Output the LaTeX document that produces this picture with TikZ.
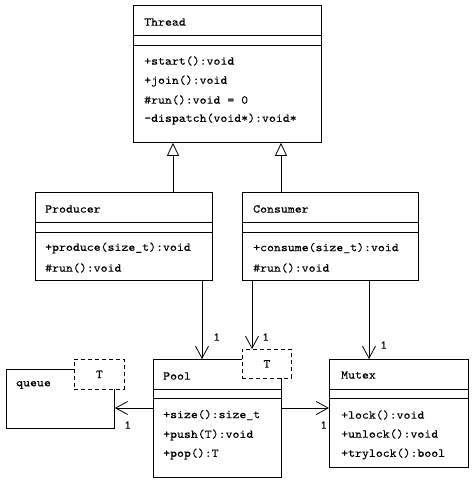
\documentclass[tikz,border=0pt]{standalone}
\usepackage{fontspec}
\setmonofont{lmmono10-regular}[Extension=.otf, FakeStretch=1.1, FakeBold=0.15]
\usetikzlibrary{arrows.meta}

\begin{document}
\begin{tikzpicture}[x=1pt, y=-1pt,
    classe/.style={draw, line width=0.8pt, fill=white, anchor=north west, inner sep=0pt},
    modele/.style={draw, dash pattern=on 4pt off 3pt, line width=0.8pt, fill=white, anchor=north west,
                   inner sep=0pt, font=\ttfamily\fontsize{12}{14}\selectfont},
    texte/.style={anchor=west, inner sep=0pt, font=\ttfamily\fontsize{12}{14}\selectfont},
    herite/.style={-{Triangle[open, length=13pt, width=12pt]}, line width=0.8pt},
    assoc/.style={-{Straight Barb[length=12pt, width=13pt]}, line width=0.8pt}]

    % Cadre de la figure
    \useasboundingbox (0,0) rectangle (474,483);

    % Les boites des classes
    \node[classe, minimum width=188pt, minimum height=137pt] (thread)   at (133,5)   {};
    \node[classe, minimum width=177pt, minimum height=88pt]  (producer) at (35,192)  {};
    \node[classe, minimum width=176pt, minimum height=88pt]  (consumer) at (242,192) {};
    \node[classe, minimum width=128pt, minimum height=118pt] (pool)     at (153,359) {};
    \node[classe, minimum width=139pt, minimum height=108pt] (mutex)    at (329,359) {};
    \node[classe, minimum width=108pt, minimum height=59pt]  (queue)    at (6,369)   {};

    % Separations nom / attributs / operations
    \draw[line width=0.8pt] (thread.west |- 0,35)    -- (thread.east |- 0,35);
    \draw[line width=0.8pt] (thread.west |- 0,45)    -- (thread.east |- 0,45);
    \draw[line width=0.8pt] (producer.west |- 0,222) -- (producer.east |- 0,222);
    \draw[line width=0.8pt] (producer.west |- 0,232) -- (producer.east |- 0,232);
    \draw[line width=0.8pt] (consumer.west |- 0,222) -- (consumer.east |- 0,222);
    \draw[line width=0.8pt] (consumer.west |- 0,232) -- (consumer.east |- 0,232);
    \draw[line width=0.8pt] (pool.west |- 0,389)     -- (pool.east |- 0,389);
    \draw[line width=0.8pt] (pool.west |- 0,398)     -- (pool.east |- 0,398);
    \draw[line width=0.8pt] (mutex.west |- 0,389)    -- (mutex.east |- 0,389);
    \draw[line width=0.8pt] (mutex.west |- 0,398)    -- (mutex.east |- 0,398);

    % Parametres template (en pointilles, par-dessus les boites)
    \node[modele, minimum width=49pt, minimum height=29pt] (pooltpl)  at (242,349) {T};
    \node[modele, minimum width=50pt, minimum height=30pt] (queuetpl) at (74,359)  {T};

    % Classe Thread
    \node[texte] (threadnom) at (144,22)  {Thread};
    \node[texte] (threadm1)  at (144,61)  {+start():void};
    \node[texte] (threadm2)  at (144,81)  {+join():void};
    \node[texte] (threadm3)  at (144,100) {\#run():void = 0};
    \node[texte] (threadm4)  at (144,119) {-dispatch(void*):void*};

    % Classe Producer
    \node[texte] (producernom) at (45,209) {Producer};
    \node[texte] (producerm1)  at (45,248) {+produce(size\_t):void};
    \node[texte] (producerm2)  at (45,268) {\#run():void};

    % Classe Consumer
    \node[texte] (consumernom) at (253,209) {Consumer};
    \node[texte] (consumerm1)  at (253,248) {+consume(size\_t):void};
    \node[texte] (consumerm2)  at (253,268) {\#run():void};

    % Classe Pool
    \node[texte] (poolnom) at (163,376) {Pool};
    \node[texte] (poolm1)  at (163,415) {+size():size\_t};
    \node[texte] (poolm2)  at (163,435) {+push(T):void};
    \node[texte] (poolm3)  at (163,454) {+pop():T};

    % Classe Mutex
    \node[texte] (mutexnom) at (341,375) {Mutex};
    \node[texte] (mutexm1)  at (341,415) {+lock():void};
    \node[texte] (mutexm2)  at (341,434) {+unlock():void};
    \node[texte] (mutexm3)  at (341,454) {+trylock():bool};

    % Classe queue
    \node[texte] (queuenom) at (16,385) {queue};

    % Heritage vers Thread
    \draw[herite] (producer.north -| 173,0) -- (thread.south -| 173,0);
    \draw[herite] (consumer.north -| 281,0) -- (thread.south -| 281,0);

    % Associations
    \draw[assoc] (producer.south -| 202,0) -- (pool.north -| 202,0);
    \draw[assoc] (consumer.south -| 252,0) -- (pooltpl.north -| 252,0);
    \draw[assoc] (consumer.south -| 369,0) -- (mutex.north -| 369,0);
    \draw[assoc] (pool.east |- 0,408) -- (mutex.west |- 0,408);
    \draw[assoc] (pool.west |- 0,408) -- (queue.east |- 0,408);

    % Multiplicites
    \node[texte] (mult1) at (213,337) {1};
    \node[texte] (mult2) at (262,337) {1};
    \node[texte] (mult3) at (380,345) {1};
    \node[texte] (mult4) at (320,425) {1};
    \node[texte] (mult5) at (124,425) {1};

\end{tikzpicture}
\end{document}
